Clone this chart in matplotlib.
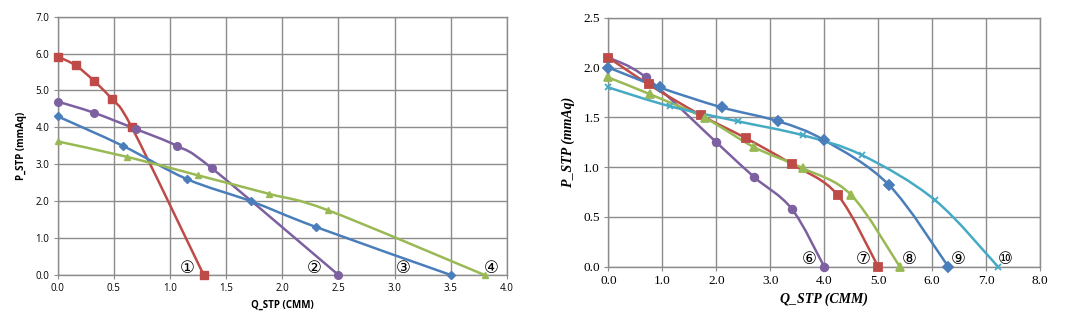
import matplotlib
matplotlib.use("Agg")

import numpy as np
import matplotlib.pyplot as plt
from matplotlib.path import Path
from matplotlib.patches import PathPatch

# Left chart: P-Q curves 1-4
q1 = [0.0, 0.16, 0.32, 0.48, 0.66, 1.30]
p1 = [5.92, 5.68, 5.27, 4.77, 4.00, 0.0]
q2 = [0.0, 0.32, 0.70, 1.06, 1.37, 2.50]
p2 = [4.70, 4.40, 3.95, 3.50, 2.90, 0.0]
q3 = [0.0, 0.58, 1.15, 1.72, 2.30, 3.50]
p3 = [4.30, 3.50, 2.60, 2.00, 1.30, 0.0]
q4 = [0.0, 0.62, 1.25, 1.88, 2.41, 3.80]
p4 = [3.62, 3.20, 2.70, 2.20, 1.75, 0.0]

# Right chart: P-Q curves 6-10
q6 = [0.0, 0.70, 2.00, 2.70, 3.40, 4.00]
p6 = [2.10, 1.90, 1.25, 0.90, 0.58, 0.0]
q7 = [0.0, 0.75, 1.72, 2.55, 3.40, 4.25, 5.00]
p7 = [2.10, 1.83, 1.52, 1.29, 1.03, 0.72, 0.0]
q8 = [0.0, 0.78, 1.80, 2.70, 3.60, 4.50, 5.40]
p8 = [1.90, 1.73, 1.49, 1.20, 0.99, 0.72, 0.0]
q9 = [0.0, 0.95, 2.10, 3.15, 4.00, 5.20, 6.30]
p9 = [2.00, 1.80, 1.60, 1.46, 1.27, 0.82, 0.0]
q10 = [0.0, 1.15, 2.40, 3.60, 4.70, 6.05, 7.22]
p10 = [1.80, 1.61, 1.46, 1.32, 1.12, 0.67, 0.0]

left_labels = ["①", "②", "③", "④"]
left_label_q = [1.15, 2.28, 3.08, 3.86]
right_labels = ["⑥", "⑦", "⑧", "⑨", "⑩"]
right_label_q = [3.72, 4.72, 5.57, 6.48, 7.35]

BLUE = "#4A7EBB"
RED = "#BE4B48"
GREEN = "#98B954"
PURPLE = "#7D60A0"
CYAN = "#46AAC5"
GRID = "#8C8C8C"


def smooth_line(ax, xs, ys, color, lw=1.8):
    # Excel style smoothed line: cubic bezier between the data points
    pts = np.column_stack([xs, ys])
    verts = [pts[0]]
    codes = [Path.MOVETO]
    n = len(pts)
    for i in range(n - 1):
        p0 = pts[i - 1] if i > 0 else pts[i]
        p1_, p2_ = pts[i], pts[i + 1]
        p3_ = pts[i + 2] if i + 2 < n else pts[i + 1]
        c1 = p1_ + (p2_ - p0) / 6.0
        c2 = p2_ - (p3_ - p1_) / 6.0
        verts += [c1, c2, p2_]
        codes += [Path.CURVE4] * 3
    ax.add_patch(PathPatch(Path(verts, codes), facecolor="none",
                           edgecolor=color, lw=lw, zorder=3, clip_on=False))


def style_axes(ax):
    ax.grid(True, color=GRID, lw=1.0)
    ax.set_axisbelow(True)
    for s in ax.spines.values():
        s.set_color(GRID)
        s.set_linewidth(1.0)
    ax.tick_params(length=3, color=GRID, pad=3)


fig = plt.figure(figsize=(10.78, 3.28), dpi=100)

# ---- left chart
axL = fig.add_axes([0.0535, 0.1616, 0.4168, 0.7875])
left = [(q1, p1, RED, "s", 5.5), (q2, p2, PURPLE, "o", 5.5),
        (q3, p3, BLUE, "D", 3.8), (q4, p4, GREEN, "^", 5)]
for q, p, c, m, ms in left:
    smooth_line(axL, q, p, c)
    axL.plot(q, p, ls="none", marker=m, ms=ms, color=c, zorder=4,
             clip_on=False)
axL.set_xlim(0, 4.0)
axL.set_ylim(0, 7.0)
axL.set_xticks(np.arange(0, 4.01, 0.5))
axL.set_yticks(np.arange(0, 7.01, 1.0))
axL.xaxis.set_major_formatter(matplotlib.ticker.FormatStrFormatter("%.1f"))
axL.yaxis.set_major_formatter(matplotlib.ticker.FormatStrFormatter("%.1f"))
style_axes(axL)
for lbl in axL.get_xticklabels() + axL.get_yticklabels():
    lbl.set_fontsize(7)
    lbl.set_family(["Open Sans", "DejaVu Sans"])
axL.set_xlabel("Q_STP (CMM)", fontsize=7, fontweight="bold",
               family=["Open Sans", "DejaVu Sans"], labelpad=4)
axL.set_ylabel("P_STP (mmAq)", fontsize=7, fontweight="bold",
               family=["Open Sans", "DejaVu Sans"], labelpad=6)
for t, xq in zip(left_labels, left_label_q):
    axL.text(xq, 0.2, t, fontsize=12, ha="center", va="center",
             family=["DejaVu Sans"], zorder=5)

# ---- right chart
axR = fig.add_axes([0.5643, 0.187, 0.4005, 0.759])
right = [(q6, p6, PURPLE, "o", 5.5), (q7, p7, RED, "s", 5.5),
         (q8, p8, GREEN, "^", 5.5), (q9, p9, BLUE, "D", 5),
         (q10, p10, CYAN, "x", 5)]
for q, p, c, m, ms in right:
    smooth_line(axR, q, p, c)
    axR.plot(q, p, ls="none", marker=m, ms=ms, color=c, mew=1.3, zorder=4,
             clip_on=False)
axR.set_xlim(0, 8.0)
axR.set_ylim(0, 2.5)
axR.set_xticks(np.arange(0, 8.01, 1.0))
axR.set_yticks(np.arange(0, 2.51, 0.5))
axR.xaxis.set_major_formatter(matplotlib.ticker.FormatStrFormatter("%.1f"))
axR.yaxis.set_major_formatter(matplotlib.ticker.FormatStrFormatter("%.1f"))
style_axes(axR)
for lbl in axR.get_xticklabels() + axR.get_yticklabels():
    lbl.set_fontsize(9.5)
    lbl.set_family(["Liberation Serif", "DejaVu Serif"])
axR.set_xlabel("Q_STP (CMM)", fontsize=10, fontweight="bold", style="italic",
               family=["Liberation Serif", "DejaVu Serif"], labelpad=4)
axR.set_ylabel("P_STP (mmAq)", fontsize=10, fontweight="bold", style="italic",
               family=["Liberation Serif", "DejaVu Serif"], labelpad=6)
for t, xq in zip(right_labels, right_label_q):
    axR.text(xq, 0.075, t, fontsize=12, ha="center", va="center",
             family=["DejaVu Sans"], zorder=5)

fig.savefig("out.png", dpi=100)
